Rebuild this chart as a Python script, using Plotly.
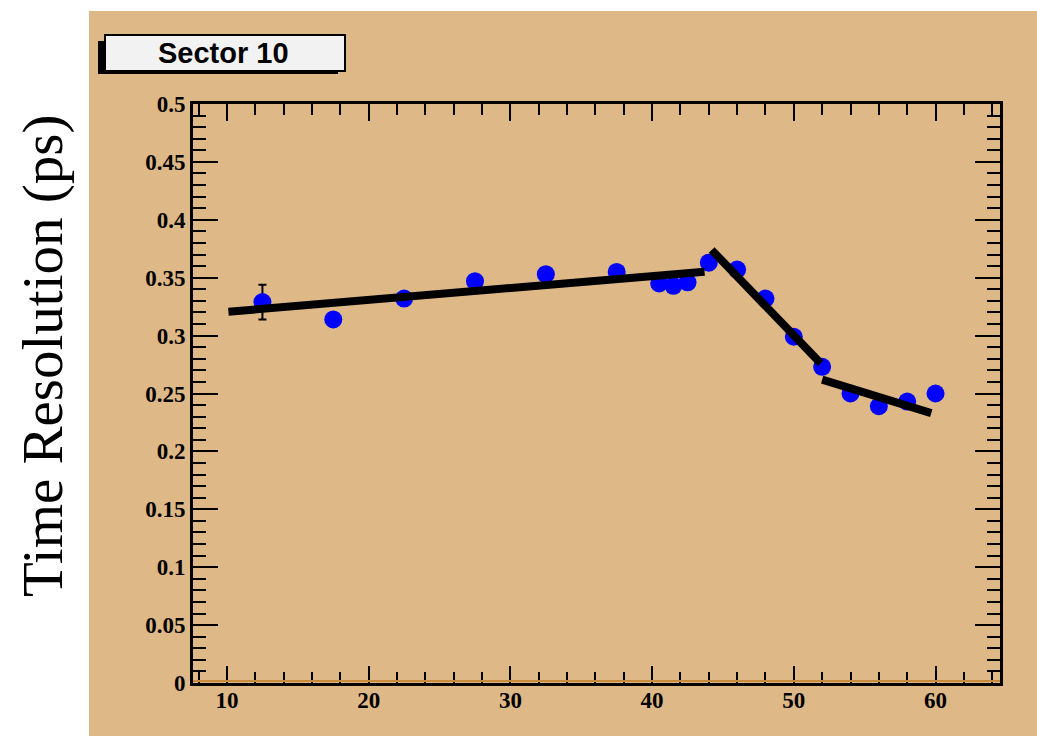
import plotly.graph_objects as go

# Measured time resolution per bar position (Sector 10)
position = [12.5, 17.5, 22.5, 27.5, 32.5, 37.5, 40.5, 41.5, 42.5,
            44.0, 46.0, 48.0, 50.0, 52.0, 54.0, 56.0, 58.0, 60.0]
resolution = [0.329, 0.314, 0.332, 0.347, 0.353, 0.355, 0.345, 0.343, 0.346,
              0.363, 0.357, 0.332, 0.299, 0.273, 0.250, 0.239, 0.243, 0.250]
resolution_err = [0.015, 0.004, 0.004, 0.004, 0.004, 0.004, 0.004, 0.004, 0.004,
                  0.004, 0.004, 0.004, 0.004, 0.004, 0.004, 0.004, 0.004, 0.004]

# Piecewise linear fits: (start, end) for each region
fit_x = [[10.1, 43.7], [44.2, 51.9], [52.0, 59.7]]
fit_y = [[0.3206, 0.3552], [0.374, 0.276], [0.262, 0.233]]

x_ticks = [10, 20, 30, 40, 50, 60]
x_ticktext = ["10", "20", "30", "40", "50", "60"]
y_ticks = [0, 0.05, 0.1, 0.15, 0.2, 0.25, 0.3, 0.35, 0.4, 0.45, 0.5]
y_ticktext = ["0", "0.05", "0.1", "0.15", "0.2", "0.25", "0.3", "0.35", "0.4", "0.45", "0.5"]

title_text = "Sector 10"
y_title = "Time Resolution (ps)"

W, H = 1037, 736
L, R, T, B = 193, 37, 104, 53
PW, PH = W - L - R, H - T - B
TAN = "#DEB887"


def px(xp):
    return (xp - L) / PW


def py(yp):
    return (H - B - yp) / PH


fig = go.Figure()

fig.add_trace(go.Scatter(
    x=position, y=resolution, mode="markers",
    marker=dict(color="#0000FF", size=18, line=dict(width=0)),
    error_y=dict(type="data", array=resolution_err, color="black",
                 thickness=2, width=4),
    showlegend=False, hoverinfo="x+y",
))

for fx, fy in zip(fit_x, fit_y):
    fig.add_trace(go.Scatter(
        x=fx, y=fy, mode="lines",
        line=dict(color="black", width=8),
        showlegend=False, hoverinfo="skip",
    ))

tick_font = dict(family="Liberation Serif", size=23, color="black", weight="bold")

fig.update_xaxes(
    range=[7.6, 64.55], tickmode="array", tickvals=x_ticks, ticktext=x_ticktext,
    ticks="inside", ticklen=17, tickwidth=2, tickcolor="black",
    minor=dict(dtick=2, tick0=0, ticks="inside", ticklen=11, tickwidth=2,
               tickcolor="black", showgrid=False),
    showline=True, linecolor="black", linewidth=3, mirror="allticks",
    showgrid=False, zeroline=False, tickfont=tick_font, ticklabelstandoff=-6,
)
fig.update_yaxes(
    range=[0, 0.5], tickmode="array", tickvals=y_ticks, ticktext=y_ticktext,
    ticks="inside", ticklen=25, tickwidth=2, tickcolor="black",
    minor=dict(dtick=0.01, tick0=0, ticks="inside", ticklen=13, tickwidth=2,
               tickcolor="black", showgrid=False),
    showline=True, linecolor="black", linewidth=3, mirror="allticks",
    showgrid=False, zeroline=False, tickfont=tick_font,
)

shapes = [
    # canvas pad
    dict(type="rect", xref="paper", yref="paper", layer="below",
         x0=px(89), x1=px(W + 5), y0=py(H + 5), y1=py(11),
         fillcolor=TAN, line=dict(width=0)),
    # orange rim along the bottom axis
    dict(type="line", xref="paper", yref="paper", layer="above",
         x0=0, x1=1, y0=py(H - B - 2), y1=py(H - B - 2),
         line=dict(color="#C98A3C", width=2)),
    # title box shadow
    dict(type="rect", xref="paper", yref="paper",
         x0=px(98), x1=px(338), y0=py(74), y1=py(41),
         fillcolor="black", line=dict(width=0)),
    # title box
    dict(type="rect", xref="paper", yref="paper",
         x0=px(105), x1=px(345), y0=py(71), y1=py(35),
         fillcolor="#F2F2F2", line=dict(color="black", width=2)),
]

annotations = [
    dict(text=title_text, xref="paper", yref="paper", x=px(223), y=py(53),
         xanchor="center", yanchor="middle", showarrow=False,
         font=dict(family="Liberation Sans", size=29, color="black", weight="bold")),
    dict(text=y_title, xref="paper", yref="paper", x=px(43), y=py(356),
         xanchor="center", yanchor="middle", showarrow=False, textangle=-90,
         font=dict(family="Liberation Serif", size=57, color="black")),
]

fig.update_layout(
    width=W, height=H, autosize=False,
    margin=dict(l=L, r=R, t=T, b=B, pad=0),
    paper_bgcolor="white", plot_bgcolor=TAN,
    shapes=shapes, annotations=annotations,
    showlegend=False,
)

fig.write_html("out.html")
